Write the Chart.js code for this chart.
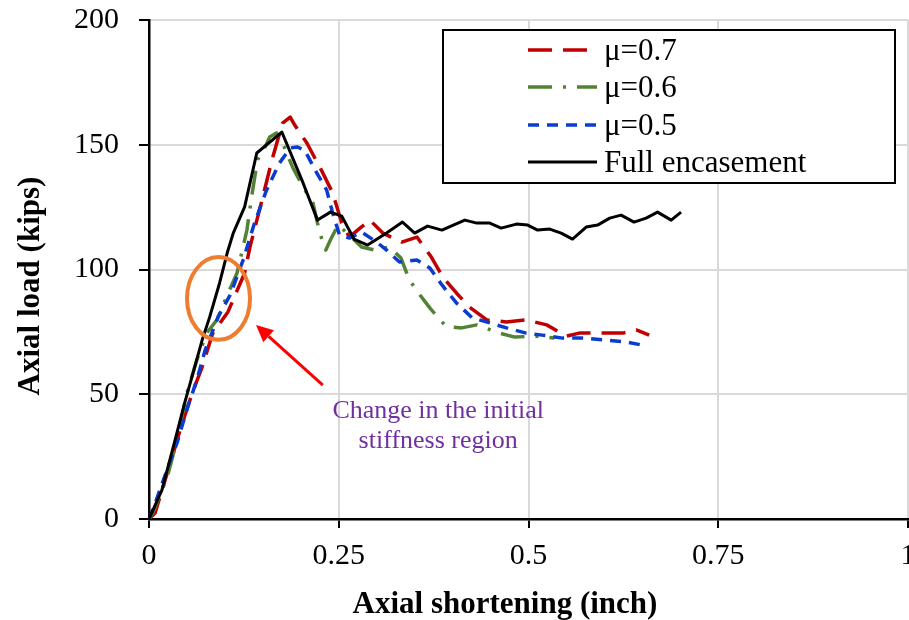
<!DOCTYPE html>
<html>
<head>
<meta charset="utf-8">
<script src="https://cdn.jsdelivr.net/npm/chart.js@4.4.1/dist/chart.umd.min.js"></script>
<style>
  html, body { margin: 0; padding: 0; background: #fff; overflow: hidden; width: 909px; height: 620px; }
  #wrap { position: absolute; left: 0; top: 0; width: 930px; height: 620px; }
</style>
</head>
<body>
<div id="wrap"><canvas id="c" width="930" height="620"></canvas></div>
<script>
// ---- Data ----
const seriesNames = ['\u03bc=0.7', '\u03bc=0.6', '\u03bc=0.5', 'Full encasement'];
const xTicks = [0, 0.25, 0.5, 0.75, 1];
const yTicks = [0, 50, 100, 150, 200];

const mu07 = [[0,0],[0.008,2.4],[0.028,22.4],[0.041,35.7],[0.057,50.5],[0.070,60.9],[0.084,74.5],[0.104,83.0],
  [0.126,98.6],[0.133,109.0],[0.149,127.9],[0.162,143.9],[0.176,158.7],[0.186,161.1],[0.192,157.9],[0.208,150.7],
  [0.229,138.7],[0.242,130.7],[0.254,118.6],[0.264,113.0],[0.278,116.6],[0.291,119.8],[0.308,114.6],[0.333,111.0],
  [0.353,113.0],[0.372,105.0],[0.387,97.0],[0.405,90.6],[0.422,85.0],[0.445,79.8],[0.471,79.0],[0.497,79.8],
  [0.524,77.8],[0.550,73.3],[0.567,74.5],[0.603,74.5],[0.624,74.5],[0.642,75.8],[0.659,73.7]];

const mu06 = [[0,0],[0.005,2.4],[0.024,16.8],[0.037,31.7],[0.050,50.5],[0.063,63.7],[0.076,74.5],[0.090,80.0],
  [0.100,87.5],[0.116,98.6],[0.129,115.8],[0.136,130.7],[0.143,143.9],[0.153,149.1],[0.159,153.1],[0.168,154.7],
  [0.176,150.7],[0.189,141.1],[0.203,133.1],[0.216,126.7],[0.222,118.6],[0.228,111.8],[0.233,107.8],[0.239,111.8],
  [0.249,117.8],[0.264,113.8],[0.280,109.0],[0.297,107.8],[0.317,109.0],[0.332,104.6],[0.343,95.8],[0.357,89.8],
  [0.371,84.2],[0.392,77.0],[0.412,76.6],[0.432,77.8],[0.462,74.5],[0.482,72.9],[0.508,73.3],[0.534,72.5]];

const mu05 = [[0,0],[0.005,3.6],[0.025,20.8],[0.037,30.5],[0.051,44.9],[0.063,55.7],[0.074,67.7],[0.091,81.0],
  [0.107,89.8],[0.124,103.8],[0.139,118.6],[0.155,131.9],[0.172,142.7],[0.186,148.7],[0.195,149.1],[0.205,147.9],
  [0.221,138.7],[0.234,131.9],[0.242,122.6],[0.251,113.8],[0.264,112.6],[0.280,115.0],[0.300,111.0],[0.313,107.8],
  [0.330,103.0],[0.353,103.8],[0.370,100.6],[0.386,93.8],[0.405,86.6],[0.426,80.6],[0.449,78.6],[0.471,76.6],
  [0.497,74.5],[0.518,73.7],[0.545,72.5],[0.571,72.5],[0.603,71.7],[0.629,70.9],[0.650,69.7]];

const fullEnc = [[0,0],[0.017,11.6],[0.032,28.9],[0.047,46.5],[0.058,58.5],[0.070,71.7],[0.080,81.0],[0.093,94.6],
  [0.103,106.6],[0.111,114.6],[0.126,125.1],[0.142,146.7],[0.175,155.1],[0.203,134.7],[0.222,119.8],[0.239,123.0],
  [0.254,121.4],[0.270,112.2],[0.288,109.8],[0.313,114.6],[0.334,119.0],[0.350,114.6],[0.367,117.4],[0.386,115.8],
  [0.416,119.8],[0.432,118.6],[0.449,118.6],[0.464,116.6],[0.484,118.2],[0.499,117.8],[0.512,115.8],[0.528,116.2],
  [0.543,114.6],[0.558,112.2],[0.576,117.0],[0.591,117.8],[0.607,120.6],[0.622,121.8],[0.639,119.0],[0.655,120.6],
  [0.670,123.0],[0.688,119.8],[0.701,123.0]];

// annotation (data units)
const noteLines = ['Change in the initial', 'stiffness region'];
const xTitle = 'Axial shortening (inch)';
const yTitle = 'Axial load (kips)';

// ---- Styles ----
const SERIF = '"Liberation Serif", "Times New Roman", serif';
const toPts = arr => arr.map(p => ({x: p[0], y: p[1]}));
const styles = [
  {color: '#C00000', width: 3.5, dash: [24, 11], order: 4},
  {color: '#548235', width: 3.5, dash: [24, 11, 3, 11], order: 3},
  {color: '#0A3CD2', width: 3.5, dash: [11, 8], order: 2},
  {color: '#000000', width: 3, dash: [], order: 1}
];
const allSeries = [mu07, mu06, mu05, fullEnc];

const datasets = allSeries.map((s, i) => ({
  label: seriesNames[i],
  data: toPts(s),
  showLine: true,
  borderColor: styles[i].color,
  backgroundColor: styles[i].color,
  borderWidth: styles[i].width,
  borderDash: styles[i].dash,
  borderCapStyle: 'butt',
  borderJoinStyle: 'round',
  pointRadius: 0,
  tension: 0,
  fill: false,
  order: styles[i].order
}));

const decor = {
  id: 'decor',
  afterDatasetsDraw(chart) {
    const ctx = chart.ctx;
    const xs = chart.scales.x, ys = chart.scales.y;
    const px = v => xs.getPixelForValue(v), py = v => ys.getPixelForValue(v);
    ctx.save();
    // orange ellipse
    ctx.beginPath();
    ctx.strokeStyle = '#ED7D31';
    ctx.lineWidth = 4;
    ctx.ellipse(px(0.0916), py(88.4), px(0.0415) - px(0), py(0) - py(16.6), 0, 0, Math.PI * 2);
    ctx.stroke();
    // red arrow
    const tx = px(0.229), ty = py(53.7), hx = px(0.141), hy = py(77.8);
    const ang = Math.atan2(hy - ty, hx - tx);
    const L = 17, W = 8;
    const bx = hx - L * Math.cos(ang), by = hy - L * Math.sin(ang);
    ctx.strokeStyle = '#FF0000';
    ctx.fillStyle = '#FF0000';
    ctx.lineWidth = 3;
    ctx.beginPath(); ctx.moveTo(tx, ty); ctx.lineTo(bx, by); ctx.stroke();
    ctx.beginPath();
    ctx.moveTo(hx, hy);
    ctx.lineTo(bx + W * Math.sin(ang), by - W * Math.cos(ang));
    ctx.lineTo(bx - W * Math.sin(ang), by + W * Math.cos(ang));
    ctx.closePath(); ctx.fill();
    // purple note
    ctx.fillStyle = '#7030A0';
    ctx.font = '26px ' + SERIF;
    ctx.textAlign = 'center';
    ctx.textBaseline = 'alphabetic';
    ctx.fillText(noteLines[0], px(0.381), py(40.5));
    ctx.fillText(noteLines[1], px(0.381), py(28.5));
    ctx.restore();
  },
  afterDraw(chart) {
    const ctx = chart.ctx;
    ctx.save();
    // legend box
    const L = {x: 443, y: 30, w: 452, h: 153};
    ctx.fillStyle = '#fff';
    ctx.fillRect(L.x, L.y, L.w, L.h);
    ctx.strokeStyle = '#000';
    ctx.lineWidth = 2;
    ctx.strokeRect(L.x, L.y, L.w, L.h);
    const rows = [50, 87, 125, 162];
    chart.data.datasets.forEach((ds, i) => {
      const y = rows[i];
      ctx.beginPath();
      ctx.strokeStyle = ds.borderColor;
      ctx.lineWidth = ds.borderWidth;
      ctx.setLineDash(ds.borderDash);
      ctx.lineCap = 'butt';
      ctx.moveTo(528, y); ctx.lineTo(597, y);
      ctx.stroke();
      ctx.setLineDash([]);
      ctx.fillStyle = '#000';
      ctx.font = '31px ' + SERIF;
      ctx.textAlign = 'left';
      ctx.textBaseline = 'alphabetic';
      ctx.fillText(ds.label, 604, y + 10);
    });
    // axis titles
    ctx.fillStyle = '#000';
    ctx.font = 'bold 31px ' + SERIF;
    ctx.textAlign = 'center';
    ctx.textBaseline = 'alphabetic';
    ctx.fillText(xTitle, 505, 613);
    ctx.translate(39, 286);
    ctx.rotate(-Math.PI / 2);
    ctx.fillText(yTitle, 0, 0);
    ctx.restore();
  }
};

new Chart(document.getElementById('c'), {
  type: 'scatter',
  data: {datasets},
  options: {
    responsive: false,
    animation: false,
    devicePixelRatio: 1,
    layout: {padding: {top: 20, right: 22, left: 0, bottom: 0}},
    plugins: {legend: {display: false}, tooltip: {enabled: false}},
    scales: {
      x: {
        type: 'linear', min: 0, max: 1,
        afterBuildTicks: s => { s.ticks = xTicks.map(v => ({value: v})); },
        afterFit: s => { s.height = 101; s.paddingLeft = 0; s.paddingRight = 0; },
        ticks: {font: {family: SERIF, size: 30}, color: '#000', padding: 10, maxRotation: 0,
                callback: v => String(v)},
        grid: {color: '#D9D9D9', lineWidth: 2, tickColor: '#000', tickLength: 9, tickWidth: 2},
        border: {display: true, color: '#000', width: 2.5}
      },
      y: {
        type: 'linear', min: 0, max: 200,
        afterBuildTicks: s => { s.ticks = yTicks.map(v => ({value: v})); },
        afterFit: s => { s.width = 149; s.paddingTop = 0; s.paddingBottom = 0; },
        ticks: {font: {family: SERIF, size: 30}, color: '#000', padding: 20,
                callback: v => String(v)},
        grid: {color: '#D9D9D9', lineWidth: 2, tickColor: '#000', tickLength: 10, tickWidth: 2},
        border: {display: true, color: '#000', width: 2.5}
      }
    }
  },
  plugins: [decor]
});
</script>
</body>
</html>
